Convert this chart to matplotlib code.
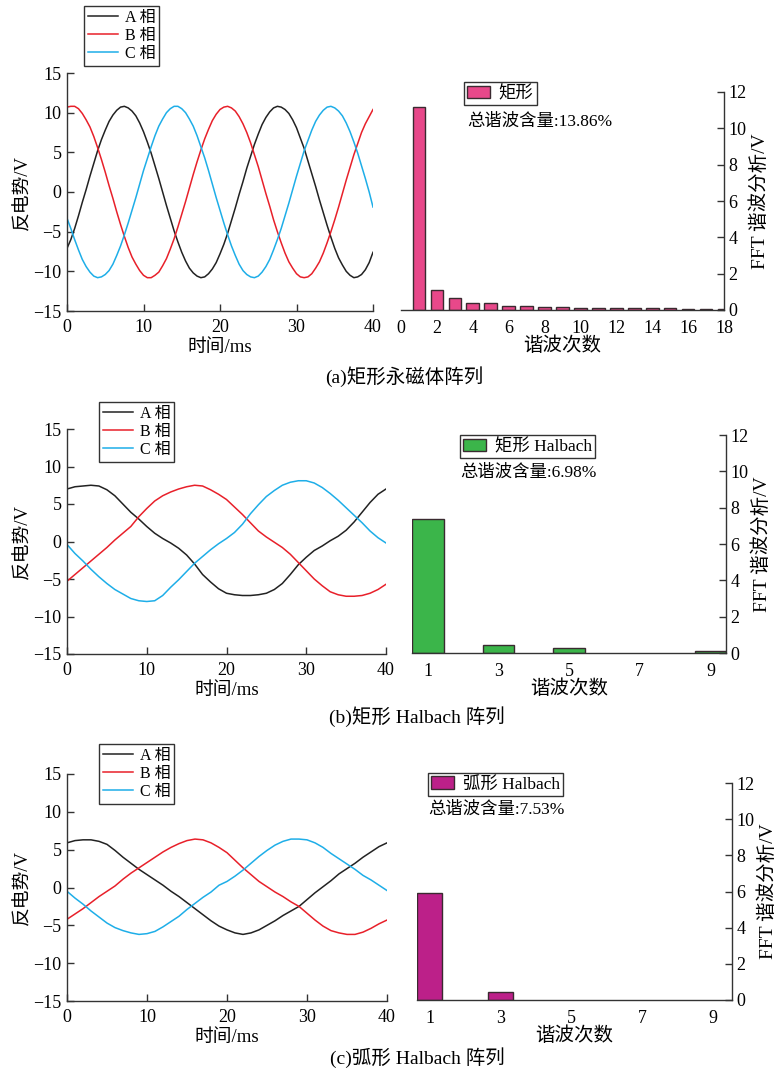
import matplotlib
matplotlib.use("Agg")
import matplotlib.pyplot as plt

plt.rcParams['font.family'] = ['Liberation Serif', 'Noto Sans CJK SC']
plt.rcParams['axes.unicode_minus'] = True

# time axes, ms
t_a = [i * 0.5 for i in range(81)]
t = list(range(0, 41))

# (a) rectangular PM array, back EMF (sampled every 0.5 ms)
a_A = [-7.1, -6.0, -4.6, -3.0, -1.3, 0.3, 2.0, 3.6, 5.2, 6.6, 7.8, 8.9, 9.7, 10.3, 10.7, 10.8, 10.6, 10.2, 9.6, 8.7,
       7.6, 6.3, 4.9, 3.3, 1.7, 0.0, -1.7, -3.3, -4.9, -6.3, -7.6, -8.7, -9.6, -10.2, -10.6, -10.8, -10.7, -10.3, -9.7, -8.9,
       -7.8, -6.6, -5.2, -3.6, -2.0, -0.3, 1.3, 3.0, 4.5, 6.0, 7.3, 8.5, 9.4, 10.1, 10.6, 10.8, 10.7, 10.4, 9.9, 9.1,
       8.1, 6.8, 5.5, 3.9, 2.3, 0.7, -1.0, -2.6, -4.2, -5.7, -7.1, -8.3, -9.2, -10.0, -10.5, -10.8, -10.7, -10.4, -9.8, -8.9,
       -7.6]
a_B = [10.7, 10.8, 10.8, 10.5, 9.9, 9.1, 8.2, 7.0, 5.6, 4.1, 2.5, 0.8, -0.8, -2.5, -4.1, -5.6, -7.0, -8.2, -9.1, -9.9,
       -10.5, -10.8, -10.8, -10.5, -10.1, -9.3, -8.4, -7.2, -5.9, -4.4, -2.8, -1.2, 0.5, 2.2, 3.8, 5.3, 6.7, 7.9, 9.0, 9.8,
       10.4, 10.7, 10.8, 10.6, 10.2, 9.5, 8.6, 7.5, 6.2, 4.7, 3.2, 1.5, -0.2, -1.8, -3.5, -5.0, -6.4, -7.7, -8.8, -9.6,
       -10.3, -10.7, -10.8, -10.7, -10.3, -9.6, -8.8, -7.7, -6.4, -5.0, -3.5, -1.9, -0.2, 1.5, 3.1, 4.7, 6.1, 7.5, 8.6, 9.5,
       10.4]
a_C = [-3.3, -4.6, -6.0, -7.3, -8.5, -9.4, -10.1, -10.6, -10.8, -10.7, -10.4, -9.9, -9.1, -8.0, -6.8, -5.4, -3.9, -2.3, -0.7, 1.0,
       2.7, 4.2, 5.7, 7.1, 8.3, 9.2, 10.0, 10.5, 10.8, 10.8, 10.5, 10.0, 9.2, 8.3, 7.1, 5.7, 4.3, 2.7, 1.0, -0.7,
       -2.3, -3.9, -5.4, -6.8, -8.0, -9.1, -9.9, -10.4, -10.7, -10.8, -10.6, -10.1, -9.4, -8.5, -7.3, -6.0, -4.6, -3.0, -1.4, 0.3,
       2.0, 3.6, 5.2, 6.5, 7.8, 8.9, 9.7, 10.3, 10.7, 10.8, 10.6, 10.2, 9.6, 8.7, 7.6, 6.3, 4.9, 3.3, 1.7, 0.0,
       -1.9]

# (b) rectangular Halbach array
b_A = [7.0, 7.3, 7.4, 7.5, 7.4, 6.9, 6.1, 5.0, 3.9, 3.0, 2.0, 1.1, 0.4, -0.2, -0.9, -1.8, -3.0, -4.4, -5.4, -6.3,
       -6.9, -7.1, -7.2, -7.2, -7.1, -6.9, -6.4, -5.6, -4.4, -3.1, -2.1, -1.2, -0.6, 0.1, 0.7, 1.5, 2.6, 3.9, 5.2, 6.3, 7.0]
b_B = [-5.3, -4.4, -3.5, -2.6, -1.7, -0.8, 0.2, 1.1, 2.0, 3.3, 4.4, 5.4, 6.1, 6.6, 7.0, 7.3, 7.5, 7.4, 6.9, 6.3,
       5.6, 4.6, 3.6, 2.5, 1.4, 0.6, -0.1, -0.8, -1.7, -2.8, -3.9, -5.0, -5.9, -6.7, -7.1, -7.3, -7.3, -7.2, -6.9, -6.4, -5.7]
b_C = [-0.4, -1.6, -2.6, -3.7, -4.7, -5.6, -6.4, -7.0, -7.6, -7.9, -8.0, -7.9, -7.2, -6.1, -5.1, -4.0, -2.9, -2.0, -1.1, -0.3,
       0.4, 1.2, 2.3, 3.7, 4.9, 6.0, 6.8, 7.5, 7.9, 8.1, 8.1, 7.8, 7.2, 6.4, 5.5, 4.5, 3.5, 2.5, 1.4, 0.5, -0.2]

# (c) arc Halbach array
c_A = [5.9, 6.2, 6.3, 6.3, 6.1, 5.7, 4.9, 4.0, 3.2, 2.4, 1.7, 1.0, 0.3, -0.5, -1.2, -2.0, -2.8, -3.6, -4.4, -5.1,
       -5.6, -6.0, -6.2, -6.0, -5.6, -5.0, -4.4, -3.7, -3.1, -2.5, -1.6, -0.7, 0.1, 0.9, 1.8, 2.5, 3.2, 4.0, 4.7, 5.4, 5.9]
c_B = [-4.2, -3.5, -2.8, -2.0, -1.2, -0.5, 0.2, 1.1, 1.9, 2.6, 3.3, 4.0, 4.7, 5.3, 5.8, 6.2, 6.4, 6.3, 5.9, 5.3,
       4.6, 3.6, 2.6, 1.7, 0.8, 0.1, -0.6, -1.2, -1.9, -2.5, -3.4, -4.3, -5.1, -5.7, -6.0, -6.2, -6.2, -5.9, -5.4, -4.8, -4.3]
c_C = [-0.5, -1.4, -2.2, -3.1, -3.9, -4.7, -5.3, -5.7, -6.0, -6.2, -6.1, -5.8, -5.2, -4.5, -3.8, -2.9, -2.1, -1.3, -0.6, 0.3,
       0.8, 1.5, 2.3, 3.2, 4.1, 4.9, 5.6, 6.1, 6.4, 6.4, 6.3, 5.9, 5.3, 4.5, 3.8, 3.1, 2.4, 1.6, 1.0, 0.3, -0.4]

# FFT harmonics
a_orders = list(range(1, 19))
a_fft = [11.2, 1.1, 0.64, 0.37, 0.37, 0.24, 0.22, 0.17, 0.17, 0.09, 0.09, 0.09, 0.09, 0.09, 0.09, 0.04, 0.04, 0.03]
b_labels = ['1', '3', '5', '7', '9']
b_fft = [7.4, 0.46, 0.29, 0.0, 0.09]
c_labels = ['1', '3', '5', '7', '9']
c_fft = [5.9, 0.42, 0.0, 0.0, 0.0]

phase_names = ['A 相', 'B 相', 'C 相']
phase_colors = ['#222222', '#e8202a', '#1eaee8']
bar_names = ['矩形', '矩形 Halbach', '弧形 Halbach']
bar_colors = ['#e8488a', '#3bb54a', '#bc2089']
thd_text = ['总谐波含量:13.86%', '总谐波含量:6.98%', '总谐波含量:7.53%']
captions = ['(a)矩形永磁体阵列', '(b)矩形 Halbach 阵列', '(c)弧形 Halbach 阵列']

W, H = 779, 1072
fig = plt.figure(figsize=(W / 100, H / 100), dpi=100)


def box(x0, y0, x1, y1):
    # pixel box -> figure fraction rect
    return [x0 / W, 1 - y1 / H, (x1 - x0) / W, (y1 - y0) / H]


def emf_axes(rect, tt, curves, leg_xy):
    ax = fig.add_axes(rect)
    for y, name, col in zip(curves, phase_names, phase_colors):
        ax.plot(tt, y, color=col, lw=1.1, label=name)
    ax.set_xlim(0, 40)
    ax.set_ylim(-15, 15)
    ax.set_xticks([0, 10, 20, 30, 40])
    ax.set_yticks([-15, -10, -5, 0, 5, 10, 15])
    ax.spines['top'].set_visible(False)
    ax.spines['right'].set_visible(False)
    for s in ['left', 'bottom']:
        ax.spines[s].set_color('#333333')
        ax.spines[s].set_linewidth(1.0)
    ax.tick_params(direction='in', length=5, width=1, color='#333333', labelsize=13)
    ax.tick_params(axis='x', pad=6)
    ax.tick_params(axis='y', pad=4)
    ax.set_xlabel('时间/ms', fontsize=13.5, labelpad=2)
    ax.set_ylabel('反电势/V', fontsize=13.5, labelpad=1)
    leg = ax.legend(loc='upper left', bbox_to_anchor=(leg_xy[0] / W, 1 - leg_xy[1] / H),
                    bbox_transform=fig.transFigure, fontsize=11.5, frameon=True, fancybox=False,
                    borderaxespad=0, borderpad=0.25, labelspacing=0.12, handlelength=1.9,
                    handletextpad=0.4)
    leg.get_frame().set_edgecolor('black')
    leg.get_frame().set_linewidth(1.0)
    return ax


def fft_axes(rect, xs, vals, width, xlim, ticks, ticklabels, color, name, leg_xy, txt_xy, txt):
    ax = fig.add_axes(rect)
    bx = [x for x, v in zip(xs, vals) if v > 0]
    bv = [v for v in vals if v > 0]
    ax.bar(bx, bv, width=width, color=color, edgecolor='#3a2a30', linewidth=1.0, label=name)
    ax.set_xlim(*xlim)
    ax.set_ylim(0, 12)
    ax.set_xticks(ticks)
    ax.set_xticklabels(ticklabels)
    ax.yaxis.tick_right()
    ax.yaxis.set_label_position('right')
    ax.set_yticks([0, 2, 4, 6, 8, 10, 12])
    ax.spines['top'].set_visible(False)
    ax.spines['left'].set_visible(False)
    for s in ['right', 'bottom']:
        ax.spines[s].set_color('#333333')
        ax.spines[s].set_linewidth(1.0)
    ax.tick_params(axis='x', length=0, pad=7, labelsize=13)
    ax.tick_params(axis='y', direction='in', length=5, width=1, color='#333333', pad=3, labelsize=13)
    ax.set_xlabel('谐波次数', fontsize=14, labelpad=0)
    ax.set_ylabel('FFT 谐波分析/V', fontsize=14, labelpad=3)
    leg = ax.legend(loc='upper left', bbox_to_anchor=(leg_xy[0] / W, 1 - leg_xy[1] / H),
                    bbox_transform=fig.transFigure, fontsize=12.5, frameon=True, fancybox=False,
                    borderaxespad=0, borderpad=0.2, handlelength=1.3, handleheight=0.7,
                    handletextpad=0.5)
    leg.get_frame().set_edgecolor('black')
    leg.get_frame().set_linewidth(1.0)
    fig.text(txt_xy[0] / W, 1 - txt_xy[1] / H, txt, fontsize=12.5, ha='left', va='center')
    return ax


# (a)
emf_axes(box(67, 73, 373, 311), t_a, [a_A, a_B, a_C], (84, 6))
fft_axes(box(401, 92, 724, 310), a_orders, a_fft, 0.7, (0, 18), list(range(0, 19, 2)),
         [str(v) for v in range(0, 19, 2)], bar_colors[0], bar_names[0], (464, 82), (467, 122), thd_text[0])
fig.text(404 / W, 1 - 377 / H, captions[0], fontsize=14, ha='center', va='center')

# (b)
emf_axes(box(67, 429, 386, 654), t, [b_A, b_B, b_C], (99, 402))
fft_axes(box(412, 435, 726, 653), list(range(len(b_fft))), b_fft, 0.45, (-0.224, 4.22),
         list(range(len(b_labels))), b_labels, bar_colors[1], bar_names[1], (460, 435), (460, 473), thd_text[1])
fig.text(417 / W, 1 - 717 / H, captions[1], fontsize=14, ha='center', va='center')

# (c)
emf_axes(box(67, 774, 387, 1001), t, [c_A, c_B, c_C], (99, 744))
fft_axes(box(417, 783, 732, 1000), list(range(len(c_fft))), c_fft, 0.35, (-0.176, 4.27),
         list(range(len(c_labels))), c_labels, bar_colors[2], bar_names[2], (428, 773), (428, 810), thd_text[2])
fig.text(417 / W, 1 - 1058 / H, captions[2], fontsize=14, ha='center', va='center')

fig.savefig('out.png', dpi=100)
